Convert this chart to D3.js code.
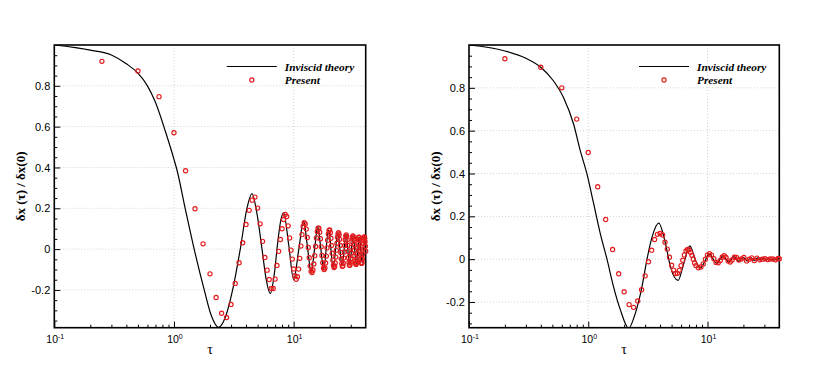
<!DOCTYPE html>
<html>
<head>
<meta charset="utf-8">
<script src="https://cdn.jsdelivr.net/npm/d3@7"></script>
<style>
body{margin:0;background:#fff;}
</style>
</head>
<body>
<div id="chart"></div>
<script>
"use strict";

// axis ticks
var xMajor = [0.1, 1, 10];
var xMajorExp = ["-1", "0", "1"];
var xMinor = [0.2,0.3,0.4,0.5,0.6,0.7,0.8,0.9,2,3,4,5,6,7,8,9,20,30];
var yMajor = [-0.2, 0, 0.2, 0.4, 0.6, 0.8];
var yMinorLeft = [-0.35,-0.3,-0.25,-0.15,-0.1,-0.05,0.05,0.1,0.15,0.25,0.3,0.35,0.45,0.5,0.55,0.65,0.7,0.75,0.85,0.9,0.95];
var yMinorRight = [-0.3,-0.25,-0.15,-0.1,-0.05,0.05,0.1,0.15,0.25,0.3,0.35,0.45,0.5,0.55,0.65,0.7,0.75,0.85,0.9,0.95];

var legendNames = ["Inviscid theory", "Present"];

// left panel: [tau, dx(tau)/dx(0)]
var theoryLeft = [[0.1,1.0],[0.2,0.975],[0.3,0.951],[0.4,0.908],[0.5,0.862],[0.6,0.8],[0.7,0.72],[0.855,0.57],
  [1.0,0.44],[1.057,0.39],[1.24,0.2],[1.475,0],[1.79,-0.2],[2.05,-0.325],[2.36,-0.383],[2.7,-0.33],[3.09,-0.2],
  [3.58,0],[4.07,0.2],[4.49,0.272],[4.95,0.17],[5.44,0],[5.9,-0.15],[6.38,-0.218],[6.9,-0.12],
  [7.35,0.03],[7.8,0.14],[8.24,0.178],[9.1,0.02],[10.0,-0.15],[11.05,0],[12.1,0.138],[13.05,0.01],
  [14.0,-0.115],[14.95,0],[15.9,0.11],[16.85,0.005],[17.8,-0.1],[19.6,0.095],[21.4,-0.09],[23.4,0.08],
  [25.4,-0.082],[27.4,0.07],[29.4,-0.077],[31.4,0.065],[33.4,-0.072],[35.4,0.06],[37.4,-0.068],
  [39.4,0.058],[40,0.045]];

var presentLeft = [[0.25,0.92],[0.5,0.873],[0.75,0.747],[1.0,0.57],[1.25,0.384],[1.5,0.198],[1.75,0.026],
  [2.0,-0.121],[2.25,-0.237],[2.5,-0.314],[2.75,-0.335],[3.0,-0.271],[3.25,-0.168],[3.5,-0.067],
  [3.75,0.031],[4.0,0.121],[4.25,0.19],[4.5,0.24],[4.75,0.255],[5.0,0.201],[5.25,0.124],[5.5,0.038],
  [5.75,-0.041],[6.0,-0.103],[6.25,-0.149],[6.5,-0.193],[6.75,-0.193],[7.0,-0.147],[7.25,-0.08],
  [7.5,-0.011],[7.75,0.047],[8.0,0.1],[8.25,0.145],[8.5,0.17],[8.75,0.16],[9.0,0.114],[9.25,0.055],
  [9.5,-0.005],[9.75,-0.049],[10.0,-0.097],[10.25,-0.13],[10.5,-0.148],[10.75,-0.135],[11.0,-0.098],
  [11.25,-0.045],[11.5,0.015],[11.75,0.071],[12.0,0.111],[12.25,0.129],[12.5,0.123],[12.75,0.098],
  [13.0,0.057],[13.25,0.008],[13.5,-0.042],[13.75,-0.083],[14.0,-0.108],[14.25,-0.115],[14.5,-0.102],
  [14.75,-0.073],[15.0,-0.032],[15.25,0.013],[15.5,0.055],[15.75,0.087],[16.0,0.103],[16.25,0.102],
  [16.5,0.083],[16.75,0.051],[17.0,0.011],[17.25,-0.031],[17.5,-0.067],[17.75,-0.092],[18.0,-0.1],
  [18.25,-0.092],[18.5,-0.068],[18.75,-0.034],[19.0,0.006],[19.25,0.044],[19.5,0.074],[19.75,0.092],
  [20.0,0.094],[20.25,0.08],[20.5,0.053],[20.75,0.018],[21.0,-0.02],[21.25,-0.054],[21.5,-0.079],
  [21.75,-0.09],[22.0,-0.085],[22.25,-0.068],[22.5,-0.039],[22.75,-0.005],[23.0,0.029],[23.25,0.058],
  [23.5,0.075],[23.75,0.08],[24.0,0.07],[24.25,0.048],[24.5,0.018],[24.75,-0.016],[25.0,-0.048],
  [25.25,-0.071],[25.5,-0.084],[25.75,-0.083],[26.0,-0.069],[26.25,-0.044],[26.5,-0.014],[26.75,0.018],
  [27.0,0.045],[27.25,0.064],[27.5,0.07],[27.75,0.064],[28.0,0.046],[28.25,0.019],[28.5,-0.011],
  [28.75,-0.041],[29.0,-0.064],[29.25,-0.078],[29.5,-0.079],[29.75,-0.068],[30.0,-0.047],[30.25,-0.019],
  [30.5,0.01],[30.75,0.037],[31.0,0.056],[31.25,0.065],[31.5,0.061],[31.75,0.047],[32.0,0.023],
  [32.25,-0.005],[32.5,-0.033],[32.75,-0.057],[33.0,-0.071],[33.25,-0.075],[33.5,-0.067],[33.75,-0.049],
  [34.0,-0.024],[34.25,0.004],[34.5,0.029],[34.75,0.049],[35.0,0.059],[35.25,0.058],[35.5,0.046],
  [35.75,0.026],[36.0,0.0],[36.25,-0.026],[36.5,-0.049],[36.75,-0.065],[37.0,-0.07],[37.25,-0.065],
  [37.5,-0.049],[37.75,-0.026],[38.0,0.0],[38.25,0.026],[38.5,0.046],[38.75,0.058],[39.0,0.06],
  [39.25,0.052],[39.5,0.036],[39.75,0.014],[40.0,-0.01]];

// right panel
var theoryRight = [[0.1,1.0],[0.2,0.972],[0.3,0.938],[0.4,0.896],[0.51,0.833],[0.62,0.755],[0.753,0.631],
  [0.857,0.507],[0.975,0.398],[1.11,0.259],[1.26,0.12],[1.436,0],[1.63,-0.129],[1.86,-0.237],
  [2.18,-0.322],[2.48,-0.253],[2.82,-0.129],[3.11,0],[3.43,0.104],[3.9,0.168],[4.44,0.073],
  [4.89,-0.036],[5.67,-0.099],[6.32,-0.02],[7.1,0.062],[7.93,-0.005],[8.7,-0.042],[9.5,-0.01],
  [10.3,0.026],[11.1,0.003],[11.9,-0.02],[12.7,-0.002],[13.5,0.017],[14.3,0],[15.1,-0.014],[15.9,0],
  [16.7,0.012],[17.5,0],[18.3,-0.01],[19.9,0.009],[21.5,-0.008],[23.1,0.007],[24.7,-0.006],[26.3,0.006],
  [27.9,-0.005],[29.5,0.005],[31.1,-0.004],[32.7,0.004],[34.3,-0.004],[35.9,0.003],[37.5,-0.003],
  [39.1,0.003],[40,0.001]];

var presentRight = [[0.2,0.936],[0.4,0.896],[0.6,0.8],[0.8,0.654],[1.0,0.498],[1.2,0.338],[1.4,0.185],
  [1.6,0.045],[1.8,-0.068],[2.0,-0.152],[2.2,-0.212],[2.4,-0.225],[2.6,-0.195],[2.8,-0.143],[3.0,-0.078],
  [3.2,-0.012],[3.4,0.042],[3.6,0.092],[3.8,0.116],[4.0,0.12],[4.2,0.113],[4.4,0.079],[4.6,0.047],
  [4.8,0.009],[5.0,-0.028],[5.2,-0.051],[5.4,-0.067],[5.6,-0.066],[5.8,-0.052],[6.0,-0.03],[6.2,-0.005],
  [6.4,0.02],[6.6,0.038],[6.8,0.046],[7.0,0.044],[7.2,0.032],[7.4,0.018],[7.6,0.0],[7.8,-0.018],
  [8.0,-0.03],[8.4,-0.04],[8.8,-0.036],[9.2,-0.022],[9.6,0.0],[10.0,0.02],[10.4,0.026],[10.8,0.019],
  [11.3,0.002],[11.8,-0.015],[12.3,-0.017],[12.8,-0.006],[13.3,0.01],[13.8,0.016],[14.3,0.008],
  [14.9,-0.008],[15.5,-0.013],[16.1,-0.004],[16.8,0.009],[17.5,0.008],[18.3,-0.004],[19.2,0.001],
  [20.2,0.008],[21.3,-0.008],[22.4,0.0],[23.5,0.006],[24.7,-0.006],[26.0,0.005],[27.4,-0.003],
  [28.8,0.0],[30.3,0.002],[31.9,-0.002],[33.5,0.001],[35.3,0.001],[37.1,-0.003],[39.0,0.003],[40.0,0.002]];

var W = 830, H = 372;
var svg = d3.select('#chart')
    .append('svg')
    .attr('width', W)
    .attr('height', H)
    .style('font-family', '"Liberation Sans", Arial, sans-serif');

var red = "#e41a1c";

function draw_panel(id, p, theory, present, yMinor) {
    var x = d3.scaleLog().domain([0.1, 40]).range([p.left, p.right]);
    var y = d3.scaleLinear().domain([p.ymin, 1.0]).range([p.bottom, p.top]);

    var g = svg.append('g');

    g.append('clipPath').attr('id', 'clip' + id)
        .append('rect')
        .attr('x', p.left).attr('y', p.top)
        .attr('width', p.right - p.left).attr('height', p.bottom - p.top);

    // dotted grid
    g.selectAll('line.gx').data(xMajor.slice(1)).enter()
        .append('line')
        .attr('x1', function(d){ return x(d); })
        .attr('x2', function(d){ return x(d); })
        .attr('y1', p.top).attr('y2', p.bottom)
        .attr('stroke', '#c8c8c8').attr('stroke-width', 0.8)
        .attr('stroke-dasharray', '1,2');
    g.selectAll('line.gy').data(yMajor).enter()
        .append('line')
        .attr('x1', p.left).attr('x2', p.right)
        .attr('y1', function(d){ return y(d); })
        .attr('y2', function(d){ return y(d); })
        .attr('stroke', '#c8c8c8').attr('stroke-width', 0.8)
        .attr('stroke-dasharray', '1,2');

    // y axis, ticks pointing inward
    var ya = g.append('g')
        .attr('transform', 'translate(' + p.left + ',0)')
        .call(d3.axisLeft(y).tickValues(yMajor).tickSize(-6).tickPadding(4)
            .tickFormat(function(d){ return d === 0 ? "0" : String(d); }));
    var ym = g.append('g')
        .attr('transform', 'translate(' + p.left + ',0)')
        .call(d3.axisLeft(y).tickValues(yMinor).tickSize(-3).tickFormat(""));

    var xa = g.append('g')
        .attr('transform', 'translate(0,' + p.bottom + ')')
        .call(d3.axisBottom(x).tickValues(xMajor).tickSize(-6).tickFormat(""));
    var xm = g.append('g')
        .attr('transform', 'translate(0,' + p.bottom + ')')
        .call(d3.axisBottom(x).tickValues(xMinor).tickSize(-3).tickFormat(""));

    [ya, ym, xa, xm].forEach(function(a){
        a.select('.domain').remove();
        a.selectAll('line').attr('stroke', '#000').attr('stroke-width', 1);
        a.selectAll('text').attr('font-size', 11).attr('fill', '#000')
            .attr('font-family', '"Liberation Sans", Arial, sans-serif');
    });

    // x tick labels 10^n
    xMajor.forEach(function(d, i){
        var t = g.append('text')
            .attr('x', x(d) + 1)
            .attr('y', p.bottom + 15)
            .attr('text-anchor', 'middle')
            .attr('font-size', 10.5);
        t.append('tspan').text("10");
        t.append('tspan').attr('dy', -4).attr('font-size', 7).text(xMajorExp[i]);
    });

    // frame
    g.append('rect')
        .attr('x', p.left).attr('y', p.top)
        .attr('width', p.right - p.left).attr('height', p.bottom - p.top)
        .attr('fill', 'none').attr('stroke', '#000').attr('stroke-width', 1.6);

    // theory line
    var line = d3.line()
        .x(function(d){ return x(d[0]); })
        .y(function(d){ return y(d[1]); })
        .curve(d3.curveMonotoneX);
    g.append('path')
        .datum(theory)
        .attr('d', line)
        .attr('clip-path', 'url(#clip' + id + ')')
        .attr('fill', 'none')
        .attr('stroke', '#000')
        .attr('stroke-width', 1.2);

    // present dots
    g.selectAll('circle.pt').data(present).enter()
        .append('circle')
        .attr('class', 'pt')
        .attr('cx', function(d){ return x(d[0]); })
        .attr('cy', function(d){ return y(d[1]); })
        .attr('r', 2.1)
        .attr('fill', 'none')
        .attr('stroke', red)
        .attr('stroke-width', 1.15);

    // legend
    var lx = p.left + p.legendX;
    g.append('line')
        .attr('x1', lx).attr('x2', lx + 50)
        .attr('y1', p.top + 21.5).attr('y2', p.top + 21.5)
        .attr('stroke', '#000').attr('stroke-width', 1.2);
    g.append('circle')
        .attr('cx', lx + 25).attr('cy', p.top + 35)
        .attr('r', 2.1).attr('fill', 'none')
        .attr('stroke', red).attr('stroke-width', 1.15);
    legendNames.forEach(function(name, i){
        g.append('text')
            .attr('x', lx + 58)
            .attr('y', p.top + 25.5 + i * 13.5)
            .attr('font-family', '"Liberation Serif", "Times New Roman", serif')
            .attr('font-style', 'italic')
            .attr('font-weight', 'bold')
            .attr('font-size', 11.3)
            .text(name);
    });

    // axis titles
    g.append('text')
        .attr('x', (p.left + p.right) / 2)
        .attr('y', p.bottom + 26)
        .attr('text-anchor', 'middle')
        .attr('font-family', '"Liberation Serif", "Times New Roman", serif')
        .attr('font-size', 14)
        .text("τ");
    g.append('text')
        .attr('transform', 'translate(' + (p.left - 29) + ',' + ((p.top + p.bottom) / 2) + ') rotate(-90)')
        .attr('text-anchor', 'middle')
        .attr('font-family', '"Liberation Serif", "Times New Roman", serif')
        .attr('font-weight', 'bold')
        .attr('font-size', 13)
        .text("δx (τ) / δx(0)");
}

draw_panel('L', {left: 54.3, right: 365.7, top: 45, bottom: 327.7, ymin: -0.385, legendX: 172.5},
    theoryLeft, presentLeft, yMinorLeft);
draw_panel('R', {left: 469, right: 779.3, top: 45, bottom: 327.7, ymin: -0.32, legendX: 170},
    theoryRight, presentRight, yMinorRight);
</script>
</body>
</html>
